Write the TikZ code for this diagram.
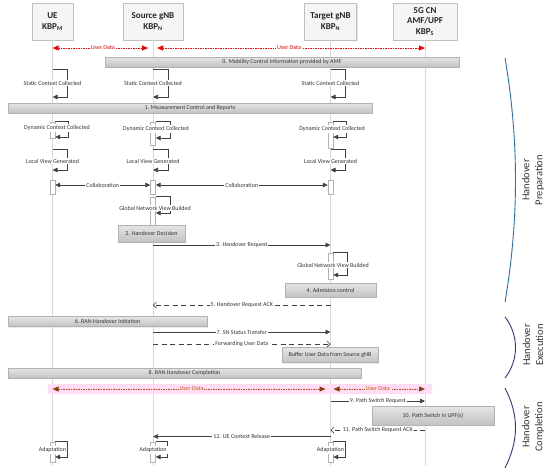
\documentclass[tikz,border=0pt]{standalone}
\usepackage{fontspec}
\setmainfont{Carlito}
\usetikzlibrary{arrows.meta,shadows}
\definecolor{udred}{RGB}{255,0,0}
\definecolor{brownln}{RGB}{190,70,20}
\definecolor{brownhd}{RGB}{140,60,10}
\definecolor{orangetx}{RGB}{197,90,17}
\definecolor{pinkband}{RGB}{255,222,245}
\definecolor{brkA}{RGB}{40,110,190}
\definecolor{brkB}{RGB}{50,50,150}
\begin{document}
\begin{tikzpicture}[x=1pt,y=-1pt,
  every node/.style={font=\fontsize{6}{7}\selectfont, text=black!80, inner sep=1pt},
  life/.style={draw=black!15, line width=0.8pt},
  hdr/.style={draw=black!25, fill=black!4, minimum height=37pt, align=center,
    font=\bfseries\fontsize{9}{11.5}\selectfont, text=black!85,
    drop shadow={opacity=0.2,shadow xshift=1pt,shadow yshift=-1pt}},
  bar/.style={draw=black!30, top color=black!10, bottom color=black!24, inner sep=0pt,
    drop shadow={opacity=0.15,shadow xshift=1pt,shadow yshift=-1pt}},
  act/.style={draw=black!30, fill=white, minimum width=5pt, inner sep=0pt},
  msg/.style={draw=black!75, line width=0.7pt, -{Triangle[length=5pt,width=4.5pt]}},
  dbl/.style={draw=black!75, line width=0.7pt, {Triangle[length=5pt,width=4.5pt]}-{Triangle[length=5pt,width=4.5pt]}},
  dmsg/.style={draw=black!75, line width=0.7pt, dash pattern=on 5pt off 3.5pt, -{Straight Barb[length=3pt,width=6pt]}},
  udata/.style={draw=udred, line width=1pt, dash pattern=on 1.5pt off 1pt,
    {Triangle[length=6pt,width=5pt,fill=udred]}-{Triangle[length=6pt,width=5pt,fill=udred]}},
  bdata/.style={draw=brownln, line width=1pt, dash pattern=on 1.5pt off 1pt,
    {Triangle[length=6pt,width=5pt,color=brownhd,fill=brownhd]}-{Triangle[length=6pt,width=5pt,color=brownhd,fill=brownhd]}},
  lbl/.style={fill=white},
  ulbl/.style={fill=white, text=udred},
  blbl/.style={fill=pinkband, text=orangetx},
  side/.style={rotate=90, align=center, font=\fontsize{10.5}{13}\selectfont, text=black!80},
]
\useasboundingbox (0,0) rectangle (550,475);

% headers
\node[hdr, minimum width=41pt] (ue) at (52.5,21.5) {UE\\KBP\textsubscript{M}};
\node[hdr, minimum width=60pt] (src) at (153,21.5) {Source gNB\\KBP\textsubscript{N}};
\node[hdr, minimum width=52pt] (tgt) at (330.5,21.5) {Target gNB\\KBP\textsubscript{N}};
\node[hdr, minimum width=64pt, font=\bfseries\fontsize{9}{10.5}\selectfont] (cn) at (425,21.5) {5G CN\\AMF/UPF\\KBP\textsubscript{S}};

% lifelines
\foreach \n in {ue,src,tgt,cn} \draw[life] (\n.south) -- (\n.south |- 0,466);

% user data (top)
\draw[udata, shorten >=5pt] (ue.south |- 0,48) -- node[ulbl] (ud1) {User Data} (src.south |- 0,48);
\draw[udata, shorten <=4pt] (src.south |- 0,48) -- node[ulbl] (ud2) {User Data} (cn.south |- 0,48);

% bar 0
\node[bar, minimum width=354pt, minimum height=10pt] (b0) at (282,62) {0. Mobility Control Information provided by AMF};

% static context
\foreach \n in {ue,src,tgt} {
  \draw[msg] (\n.south |- 0,69) -- ++(15,0) |- (\n.south |- 0,97);
  \node[lbl] (sc\n) at (\n.south |- 0,83) {Static Context Collected};
}

% bar 1
\node[bar, minimum width=364pt, minimum height=10pt] (b1) at (190,108) {1. Measurement Control and Reports};

% dynamic context
\node[act, minimum height=16pt] (due) at (ue.south |- 0,130) {};
\node[act, minimum height=23pt] (dsrc) at (src.south |- 0,133.5) {};
\node[act, minimum height=26pt] (dtgt) at (tgt.south |- 0,135) {};
\draw[msg] (due.north east) -- ++(13,0) |- (due.east |- 0,137);
\draw[msg] (dsrc.north east) -- ++(15,0) |- (dsrc.east |- 0,138);
\draw[msg] (dtgt.north east) -- ++(13,0) |- (dtgt.east |- 0,137);
\node[lbl] (dlue) at (57,128) {Dynamic Context Collected};
\node[lbl] (dlsrc) at (156,129) {Dynamic Context Collected};
\node[lbl] (dltgt) at (332,129) {Dynamic Context Collected};

% local view
\foreach \n in {ue,src,tgt} {
  \draw[msg] (\n.south |- 0,149) -- ++(15,0) |- (\n.south |- 0,170);
  \node[lbl] (lv\n) at (\n.south |- 0,161) {Local View Generated};
}

% collaboration
\node[act, minimum height=14pt] (cue) at (ue.south |- 0,187) {};
\node[act, minimum height=14pt] (csrc) at (src.south |- 0,187) {};
\node[act, minimum height=14pt] (ctgt) at (tgt.south |- 0,187) {};
\draw[dbl] (cue.east |- 0,185) -- node[lbl] (col1) {Collaboration} (csrc.west |- 0,185);
\draw[dbl] (csrc.east |- 0,185) -- node[lbl] (col2) {Collaboration} (ctgt.west |- 0,185);

% global view at source
\node[act, minimum height=28pt] (gsrc) at (src.south |- 0,211) {};
\draw[msg] (gsrc.north east) -- ++(15,0) |- (gsrc.east |- 0,213);
\node[lbl] (glsrc) at (155,208) {Global Network View Builded};

% bar 2
\node[bar, minimum width=67pt, minimum height=17pt] (b2) at (151.5,233.5) {2. Handover Decision};

% 3
\draw[msg] (src.south |- 0,245) -- node[lbl] (m3) {3. Handover Request} (tgt.south |- 0,245);

% global view at target
\node[act, minimum height=26pt] (gtgt) at (tgt.south |- 0,266) {};
\draw[msg] (gtgt.north east) -- ++(14,0) |- (gtgt.east |- 0,275);
\node[lbl] (gltgt) at (333,265) {Global Network View Builded};

% bar 4
\node[bar, minimum width=91pt, minimum height=14pt] (b4) at (330.5,290) {4. Admision control};

% 5
\draw[dmsg] (tgt.south |- 0,305) -- node[lbl] (m5) {5. Handover Request ACK} (src.south |- 0,305);

% bar 6
\node[bar, minimum width=199pt, minimum height=10pt] (b6) at (107.5,321.5) {6. RAN Handover Initiation};

% 7 and forwarding
\draw[msg] (src.south |- 0,332) -- node[lbl] (m7) {7. SN Status Transfer} (tgt.south |- 0,332);
\draw[dmsg] (src.south |- 0,344) -- node[lbl] (mfw) {Forwarding User Data} (tgt.south |- 0,344);

% buffer
\node[bar, minimum width=96pt, minimum height=15pt] (buf) at (330,355) {Buffer User Data from Source gNB};

% bar 8
\node[bar, minimum width=353pt, minimum height=10pt] (b8) at (184.5,373) {8. RAN Handover Completion};

% user data (bottom)
\fill[pinkband] (48,384) rectangle (432,394);
\draw[bdata, shorten >=5pt] (ue.south |- 0,389) -- node[blbl] (ud3) {User Data} (tgt.south |- 0,389);
\draw[bdata, shorten <=3pt] (tgt.south |- 0,389) -- node[blbl] (ud4) {User Data} (cn.south |- 0,389);

% 9
\draw[msg] (tgt.south |- 0,401) -- node[lbl] (m9) {9. Path Switch Request} (cn.south |- 0,401);

% bar 10
\node[bar, minimum width=122pt, minimum height=19pt] (b10) at (433,415.5) {10. Path Switch in UPF(s)};

% 11
\draw[dmsg] (cn.south |- 0,430) -- node[lbl] (m11) {11. Path Switch Request ACK} (tgt.south |- 0,430);

% 12
\draw[msg] (tgt.south |- 0,436.5) -- node[lbl] (m12) {12. UE Context Release} (src.south |- 0,436.5);

% adaptation
\foreach \n in {ue,src,tgt} {
  \node[act, minimum height=20pt] (ad\n) at (\n.south |- 0,452) {};
  \draw[msg] (ad\n.north east) -- ++(12,0) |- (ad\n.east |- 0,457);
  \node[lbl] (adl\n) at (\n.south |- 0,450) {Adaptation};
}

% phase brackets
\draw[brkA, line width=0.9pt] (505,58) .. controls (519,140) and (519,220) .. (505,302);
\draw[brkB, line width=0.9pt] (505,317) .. controls (519,335) and (519,360) .. (505,378);
\draw[brkB, line width=0.9pt] (505,388) .. controls (519,415) and (519,440) .. (505,468);
\node[side] (ph1) at (533,180) {Handover\\Preparation};
\node[side] (ph2) at (533,345) {Handover\\Execution};
\node[side] (ph3) at (533,427) {Handover\\Completion};
\end{tikzpicture}
\end{document}
